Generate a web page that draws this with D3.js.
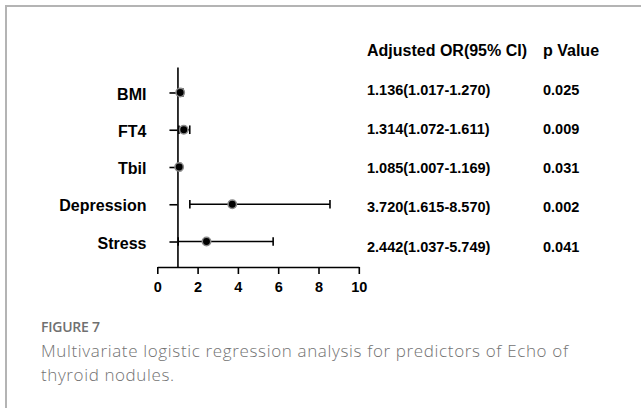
<!DOCTYPE html>
<html>
<head>
<meta charset="utf-8">
<script src="https://cdn.jsdelivr.net/npm/d3@7"></script>
<style>
  html, body { margin: 0; padding: 0; background: #fff; }
  svg { display: block; }
</style>
</head>
<body>
<div id="chart"></div>
<script>
// data
const categories = ["BMI", "FT4", "Tbil", "Depression", "Stress"];
const orValues  = [1.136, 1.314, 1.085, 3.720, 2.442];
const ciLow     = [1.017, 1.072, 1.007, 1.615, 1.037];
const ciHigh    = [1.270, 1.611, 1.169, 8.570, 5.749];
const pValues   = ["0.025", "0.009", "0.031", "0.002", "0.041"];
const xTicks    = [0, 2, 4, 6, 8, 10];
const headers   = ["Adjusted OR(95% CI)", "p Value"];

const W = 641, H = 408;
const svg = d3.select("#chart").append("svg").attr("width", W).attr("height", H);

// light frame (only top + left visible)
svg.append("rect")
    .attr("x", 6).attr("y", 6).attr("width", 800).attr("height", 600)
    .attr("fill", "none").attr("stroke", "#b4b4b4").attr("stroke-width", 2);

const boldFont = "'Liberation Sans', Arial, sans-serif";

const x = d3.scaleLinear().domain([0, 10]).range([157.3, 358.8]);
const y = d3.scalePoint().domain(categories).range([67, 267]).padding(0.684);

// x axis
const xAxis = svg.append("g")
    .attr("transform", "translate(0,267)")
    .call(d3.axisBottom(x).tickValues(xTicks).tickFormat(d3.format("d"))
        .tickSize(7).tickSizeOuter(0).tickPadding(7.5));
xAxis.select(".domain").attr("stroke", "#000").attr("stroke-width", 1.6);
xAxis.selectAll(".tick line").attr("stroke", "#000").attr("stroke-width", 1.6);
xAxis.selectAll(".tick text")
    .attr("font-family", boldFont).attr("font-weight", "bold")
    .attr("font-size", 14.5).attr("fill", "#000");

// y axis crossing at OR = 1
const yAxis = svg.append("g")
    .attr("transform", `translate(${x(1)},0)`)
    .call(d3.axisLeft(y).tickSize(8).tickSizeOuter(0).tickPadding(23));
yAxis.select(".domain").attr("stroke", "#000").attr("stroke-width", 1.6);
yAxis.selectAll(".tick line").attr("stroke", "#000").attr("stroke-width", 1.6);
yAxis.selectAll(".tick text")
    .attr("font-family", boldFont).attr("font-weight", "bold")
    .attr("font-size", 16).attr("fill", "#000").attr("dy", "0.42em");

// error bars
const rows = categories.map((c, i) => ({c, or: orValues[i], lo: ciLow[i], hi: ciHigh[i], p: pValues[i]}));
const bars = svg.append("g").selectAll("g").data(rows).join("g");
bars.append("line")
    .attr("x1", d => x(d.lo)).attr("x2", d => x(d.hi))
    .attr("y1", d => y(d.c)).attr("y2", d => y(d.c))
    .attr("stroke", "#000").attr("stroke-width", 1.6);
bars.selectAll(".cap").data(d => [[d.lo, d.c], [d.hi, d.c]]).join("line")
    .attr("class", "cap")
    .attr("x1", d => x(d[0])).attr("x2", d => x(d[0]))
    .attr("y1", d => y(d[1]) - 4.3).attr("y2", d => y(d[1]) + 4.3)
    .attr("stroke", "#000").attr("stroke-width", 1.6);
bars.append("circle")
    .attr("cx", d => x(d.or)).attr("cy", d => y(d.c)).attr("r", 4.2)
    .attr("fill", "#000").attr("stroke", "#8a8a8a").attr("stroke-width", 1.5);

// table on the right
const colX = [367, 543];
const rowY = d3.scalePoint().domain(categories).range([90, 246.5]);
svg.append("g").selectAll("text").data(headers).join("text")
    .attr("x", (d, i) => colX[i]).attr("y", 55.5)
    .attr("font-family", boldFont).attr("font-weight", "bold")
    .attr("font-size", 16).attr("fill", "#000")
    .text(d => d);
const tab = svg.append("g").selectAll("g").data(rows).join("g")
    .attr("transform", d => `translate(0,${rowY(d.c) + 5})`);
tab.append("text").attr("x", colX[0])
    .attr("font-family", boldFont).attr("font-weight", "bold")
    .attr("font-size", 14.5).attr("fill", "#000")
    .text(d => `${d3.format(".3f")(d.or)}(${d3.format(".3f")(d.lo)}-${d3.format(".3f")(d.hi)})`);
tab.append("text").attr("x", colX[1])
    .attr("font-family", boldFont).attr("font-weight", "bold")
    .attr("font-size", 14.5).attr("fill", "#000")
    .text(d => d.p);

// caption, spacing tuned so line widths match the figure
function fitWidth(sel, target) {
    sel.each(function(d, i) {
        const t = Array.isArray(target) ? target[i] : target;
        const len = this.getComputedTextLength();
        const n = this.textContent.length;
        const ls = Math.max(-1, Math.min(1.5, (t - len) / (n - 1)));
        d3.select(this).attr("letter-spacing", ls);
    });
}
const capFont = "'Open Sans', Lato, sans-serif";
svg.append("text")
    .attr("x", 41).attr("y", 332)
    .attr("font-family", capFont).attr("font-weight", 600)
    .attr("font-size", 14).attr("fill", "#707070")
    .text("FIGURE 7")
    .call(fitWidth, 59);
const capLines = ["Multivariate logistic regression analysis for predictors of Echo of", "thyroid nodules."];
svg.append("g").selectAll("text").data(capLines).join("text")
    .attr("x", 41).attr("y", (d, i) => 356.5 + i * 24)
    .attr("font-family", capFont).attr("font-weight", 300)
    .attr("font-size", 17).attr("fill", "#727272")
    .text(d => d)
    .call(fitWidth, [527, 133]);
</script>
</body>
</html>
